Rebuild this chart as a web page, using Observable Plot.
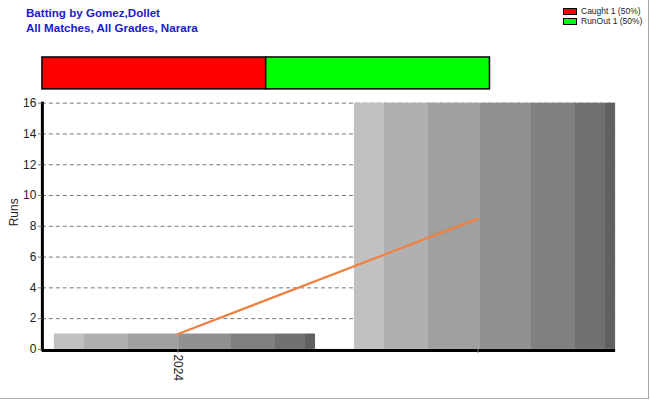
<!DOCTYPE html>
<html>
<head>
<meta charset="utf-8">
<script src="https://cdn.jsdelivr.net/npm/d3@7"></script>
<script src="https://cdn.jsdelivr.net/npm/@observablehq/plot@0.6"></script>
<style>
  html, body { margin: 0; padding: 0; background: #fff; }
  #wrap { position: relative; width: 648px; height: 398px; border-right: 1px solid #a8a8a8; border-bottom: 1px solid #a8a8a8; overflow: hidden; font-family: "Liberation Sans", Arial, sans-serif; }
  #title { position: absolute; left: 26px; top: 6px; color: #1a1acc; font-weight: bold; font-size: 11.6px; line-height: 14.5px; }
  #legend { position: absolute; left: 563px; top: 6px; font-size: 8.5px; color: #222; line-height: 10px; }
  #legend .row { display: flex; align-items: center; height: 10px; }
  #legend .sw { width: 12px; height: 5px; border: 1px solid #000; margin-right: 4px; }
  #main { position: absolute; left: 0; top: 0; }
  #topbar { position: absolute; left: 0; top: 52px; }
</style>
</head>
<body>
<svg width="0" height="0" style="position:absolute">
  <defs>
    <linearGradient id="stripes" x1="0" x2="1" y1="0" y2="0">
      <stop offset="0" stop-color="#c0c0c0"/><stop offset="0.1145" stop-color="#c0c0c0"/>
      <stop offset="0.1145" stop-color="#b0b0b0"/><stop offset="0.2824" stop-color="#b0b0b0"/>
      <stop offset="0.2824" stop-color="#a0a0a0"/><stop offset="0.4809" stop-color="#a0a0a0"/>
      <stop offset="0.4809" stop-color="#909090"/><stop offset="0.6794" stop-color="#909090"/>
      <stop offset="0.6794" stop-color="#808080"/><stop offset="0.8473" stop-color="#808080"/>
      <stop offset="0.8473" stop-color="#707070"/><stop offset="0.9618" stop-color="#707070"/>
      <stop offset="0.9618" stop-color="#606060"/><stop offset="1" stop-color="#606060"/>
    </linearGradient>
  </defs>
</svg>
<div id="wrap">
  <div id="main"></div>
  <div id="topbar"></div>
  <div id="title">Batting by Gomez,Dollet<br>All Matches, All Grades, Narara</div>
  <div id="legend"></div>
</div>
<script>
// ---- data ----
const seasons = ["2024", " "];
const runs = [1, 16];
const average = [1, 8.5];
const yTicks = [0, 2, 4, 6, 8, 10, 12, 14, 16];

const dismissalTypes = ["Caught", "RunOut"];
const dismissalCounts = [1, 1];
const dismissalColors = ["#ff0000", "#00ff00"];

// ---- tables ----
const rows = seasons.map((s, i) => ({season: s, runs: runs[i], avg: average[i]}));
const total = d3.sum(dismissalCounts);
const dis = dismissalTypes.map((t, i) => ({type: t, n: dismissalCounts[i], color: dismissalColors[i]}));

// ---- main chart ----
const mainChart = Plot.plot({
  width: 650,
  height: 400,
  marginLeft: 42,
  marginRight: 33,
  marginTop: 103,
  marginBottom: 50,
  style: {fontFamily: "'Liberation Sans', Arial, sans-serif", fontSize: "12px", color: "#222", background: "transparent"},
  x: {type: "band", domain: seasons, range: [27.5, 629.5], padding: 0, round: false},
  y: {domain: [0, 16]},
  marks: [
    Plot.ruleY(yTicks, {stroke: "#777", strokeDasharray: "4,3"}),
    Plot.barY(rows, {x: "season", y: "runs", fill: "url(#stripes)", insetLeft: 26.5, insetRight: 12.5}),
    Plot.line(rows, {x: "season", y: "avg", stroke: "#f08040", strokeWidth: 2.2}),
    Plot.ruleY([0], {stroke: "#000", strokeWidth: 3, dy: 1}),
    Plot.frame({anchor: "left", stroke: "#000", strokeWidth: 3}),
    Plot.axisY({ticks: yTicks, tickSize: 4, tickPadding: 2, stroke: "#777", label: null, fill: "#222"}),
    Plot.text(["Runs"], {frameAnchor: "left", dx: -28, rotate: -90, fontSize: 12, fill: "#222"}),
    Plot.axisX({tickSize: 4, tickPadding: 1, tickRotate: 90, stroke: "#777", label: null, fill: "#222", dy: 0})
  ]
});
document.getElementById("main").appendChild(mainChart);

// ---- dismissal bar ----
const topChart = Plot.plot({
  width: 650,
  height: 42,
  marginLeft: 42,
  marginRight: 159,
  marginTop: 5,
  marginBottom: 5,
  style: {background: "transparent"},
  x: {domain: [0, total], axis: null},
  marks: [
    Plot.barX(dis, Plot.stackX({x: "n", fill: "color", stroke: "#000", strokeWidth: 1.5}))
  ]
});
document.getElementById("topbar").appendChild(topChart);

// ---- legend ----
const leg = document.getElementById("legend");
dis.forEach(d => {
  const r = document.createElement("div");
  r.className = "row";
  r.innerHTML = `<span class="sw" style="background:${d.color}"></span>${d.type} ${d.n} (${Math.round(d.n / total * 100)}%)`;
  leg.appendChild(r);
});
</script>
</body>
</html>
